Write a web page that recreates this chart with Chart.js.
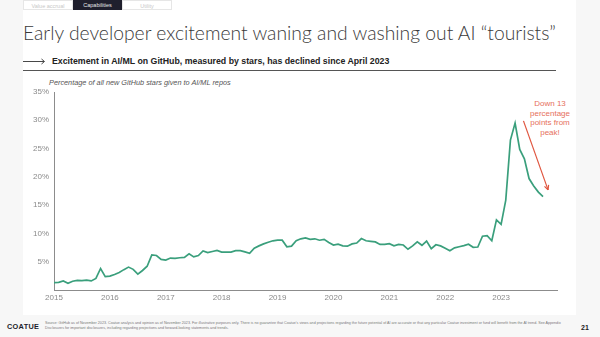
<!DOCTYPE html>
<html>
<head>
<meta charset="utf-8">
<script src="https://cdn.jsdelivr.net/npm/chart.js@4.4.0/dist/chart.umd.min.js"></script>
<style>
  html,body{margin:0;padding:0;}
  body{width:600px;height:337px;position:relative;overflow:hidden;background:#f7f7f7;font-family:"Liberation Sans",Arial,sans-serif;}
  #panel{position:absolute;left:23px;top:0;width:553px;height:315px;background:#fff;}
  .abs{position:absolute;white-space:nowrap;line-height:1;}
  .tab{position:absolute;top:0;height:10px;font-size:5.5px;line-height:10px;text-align:center;box-sizing:border-box;}
  #chartWrap{position:absolute;left:0;top:0;width:600px;height:337px;}
  #annot{position:absolute;left:520px;top:99px;width:60px;text-align:center;color:#e6705c;font-size:8px;line-height:9.6px;}
</style>
</head>
<body>
<div id="panel"></div>
<div class="tab" style="left:23px;width:50px;border:1px solid #e6e6e6;color:#c8c8c8;">Value accrual</div>
<div class="tab" style="left:73px;width:49px;background:#1f1f2d;color:#e8e8e8;">Capabilities</div>
<div class="tab" style="left:122px;width:50px;border:1px solid #e6e6e6;color:#c8c8c8;">Utility</div>

<div id="title" class="abs" style="left:23px;top:23px;font-family:Lato,Inter,'Noto Sans',sans-serif;font-weight:300;color:#3a3a3a;font-size:22px;">Early developer excitement waning and washing out AI “tourists”</div>

<svg class="abs" style="left:22px;top:57px;" width="26" height="9">
  <line x1="1" y1="4.5" x2="22" y2="4.5" stroke="#333" stroke-width="0.9"/>
  <polyline points="19.5,2 22.5,4.5 19.5,7" fill="none" stroke="#333" stroke-width="0.9"/>
</svg>
<div id="subtitle" class="abs" style="left:52px;top:56.5px;font-weight:bold;color:#222;font-size:10.5px;">Excitement in AI/ML on GitHub, measured by stars, has declined since April 2023</div>
<div class="abs" style="left:23px;top:69.5px;width:533px;height:1px;background:#555;"></div>

<div id="ytitle" class="abs" style="left:49px;top:78.5px;font-style:italic;color:#555;font-size:8px;">Percentage of all new GitHub stars given to AI/ML repos</div>

<div id="annot">Down 13<br>percentage<br>points from<br>peak!</div>

<div id="logo" class="abs" style="left:7px;top:323px;font-weight:bold;color:#1d1d2b;font-size:8.5px;letter-spacing:0.3px;">COATUE</div>
<div id="fn1" class="abs" style="left:45px;top:321.5px;color:#777;font-size:4px;">Source: GitHub as of November 2023. Coatue analysis and opinion as of November 2023. For illustrative purposes only. There is no guarantee that Coatue's views and projections regarding the future potential of AI are accurate or that any particular Coatue investment or fund will benefit from the AI trend. See Appendix</div>
<div id="fn2" class="abs" style="left:45px;top:326.5px;color:#777;font-size:4px;">Disclosures for important disclosures, including regarding projections and forward-looking statements and trends.</div>
<div class="abs" style="left:581px;top:324px;font-weight:bold;color:#222;font-size:7px;">21</div>

<div id="chartWrap"><canvas id="c" width="600" height="337"></canvas></div>

<script>
// ---- Data (monthly share of new GitHub stars given to AI/ML repos, %) ----
const years = [2015, 2016, 2017, 2018, 2019, 2020, 2021, 2022, 2023];
const v2015 = [1.3, 1.35, 1.6, 1.2, 1.55, 1.7, 1.65, 1.75, 1.6, 2.05, 3.8, 2.35];
const v2016 = [2.45, 2.75, 3.1, 3.6, 4.05, 3.65, 2.8, 3.45, 4.2, 6.2, 6.1, 5.4];
const v2017 = [5.3, 5.65, 5.6, 5.7, 5.75, 6.4, 5.85, 6.1, 6.9, 6.6, 6.8, 7.0];
const v2018 = [6.7, 6.7, 6.7, 6.95, 6.95, 6.75, 6.5, 7.4, 7.8, 8.15, 8.45, 8.7];
const v2019 = [8.8, 8.8, 7.65, 7.75, 8.7, 9.05, 9.2, 8.95, 9.05, 8.8, 8.95, 8.4];
const v2020 = [7.95, 8.1, 7.8, 7.75, 8.15, 8.3, 9.1, 8.7, 8.6, 8.5, 8.05, 8.05];
const v2021 = [8.2, 7.8, 8.05, 7.95, 7.2, 7.8, 8.5, 7.9, 8.65, 7.3, 8.0, 7.8];
const v2022 = [7.4, 6.95, 7.45, 7.65, 7.85, 8.1, 7.55, 7.6, 9.5, 9.6, 8.7, 12.4];
const v2023 = [11.6, 15.9, 26.5, 29.5, 24.85, 23.2, 19.7, 18.4, 17.3, 16.5];
const yTicks = [5, 10, 15, 20, 25, 30, 35];
const xTickYears = [2015, 2016, 2017, 2018, 2019, 2020, 2021, 2022, 2023];
// annotation arrow (x in years, y in %)
const arrowFrom = [2023.40, 29.9];
const arrowTo = [2023.84, 17.7];

const byYear = [v2015, v2016, v2017, v2018, v2019, v2020, v2021, v2022, v2023];
const points = [];
byYear.forEach((arr, yi) => arr.forEach((v, m) => points.push({x: years[yi] + m / 12, y: v})));

// fit text widths to reference
function fit(id, w){
  const el = document.getElementById(id);
  const fs = parseFloat(getComputedStyle(el).fontSize);
  const cw = el.getBoundingClientRect().width;
  el.style.fontSize = (fs * w / cw) + 'px';
}
fit('title', 533); fit('subtitle', 338); fit('ytitle', 182); fit('fn1', 519); fit('fn2', 184); fit('logo', 32);

const arrowPlugin = {
  id: 'arrowPlugin',
  afterDatasetsDraw(chart){
    const {ctx, scales:{x, y}} = chart;
    const x1 = x.getPixelForValue(arrowFrom[0]), y1 = y.getPixelForValue(arrowFrom[1]);
    const x2 = x.getPixelForValue(arrowTo[0]), y2 = y.getPixelForValue(arrowTo[1]);
    ctx.save();
    ctx.strokeStyle = '#e0553f'; ctx.lineWidth = 1.2;
    ctx.beginPath(); ctx.moveTo(x1, y1); ctx.lineTo(x2, y2); ctx.stroke();
    const a = Math.atan2(y2 - y1, x2 - x1), L = 5;
    ctx.beginPath();
    ctx.moveTo(x2, y2);
    ctx.lineTo(x2 - L * Math.cos(a - 0.45), y2 - L * Math.sin(a - 0.45));
    ctx.moveTo(x2, y2);
    ctx.lineTo(x2 - L * Math.cos(a + 0.45), y2 - L * Math.sin(a + 0.45));
    ctx.stroke();
    ctx.restore();
  }
};

new Chart(document.getElementById('c'), {
  type: 'line',
  data: { datasets: [{ data: points, borderColor: '#3a9f7c', borderWidth: 1.7, pointRadius: 0, tension: 0, fill: false }] },
  options: {
    responsive: false, animation: false, events: [],
    layout: { padding: { left: 0, top: 92, right: 43, bottom: 0 } },
    plugins: { legend: { display: false }, tooltip: { enabled: false } },
    scales: {
      x: {
        type: 'linear', min: 2015, max: 2024,
        afterBuildTicks(s){ s.ticks = xTickYears.map(v => ({value: v})); },
        afterFit(s){ s.height = 47; },
        grid: { display: false, drawTicks: false },
        border: { display: true, color: '#8c8c8c', width: 1 },
        ticks: { color: '#8a8a8a', font: { family: 'Liberation Sans', size: 8 }, padding: 3, maxRotation: 0, autoSkip: false, callback: v => String(v) }
      },
      y: {
        min: 0, max: 35,
        afterBuildTicks(s){ s.ticks = yTicks.map(v => ({value: v})); },
        afterFit(s){ s.width = 54; },
        grid: { display: false, drawTicks: false },
        border: { display: true, color: '#8c8c8c', width: 1 },
        ticks: { color: '#8a8a8a', font: { family: 'Liberation Sans', size: 8 }, padding: 5, callback: v => v + '%' }
      }
    }
  },
  plugins: [arrowPlugin]
});
</script>
</body>
</html>
